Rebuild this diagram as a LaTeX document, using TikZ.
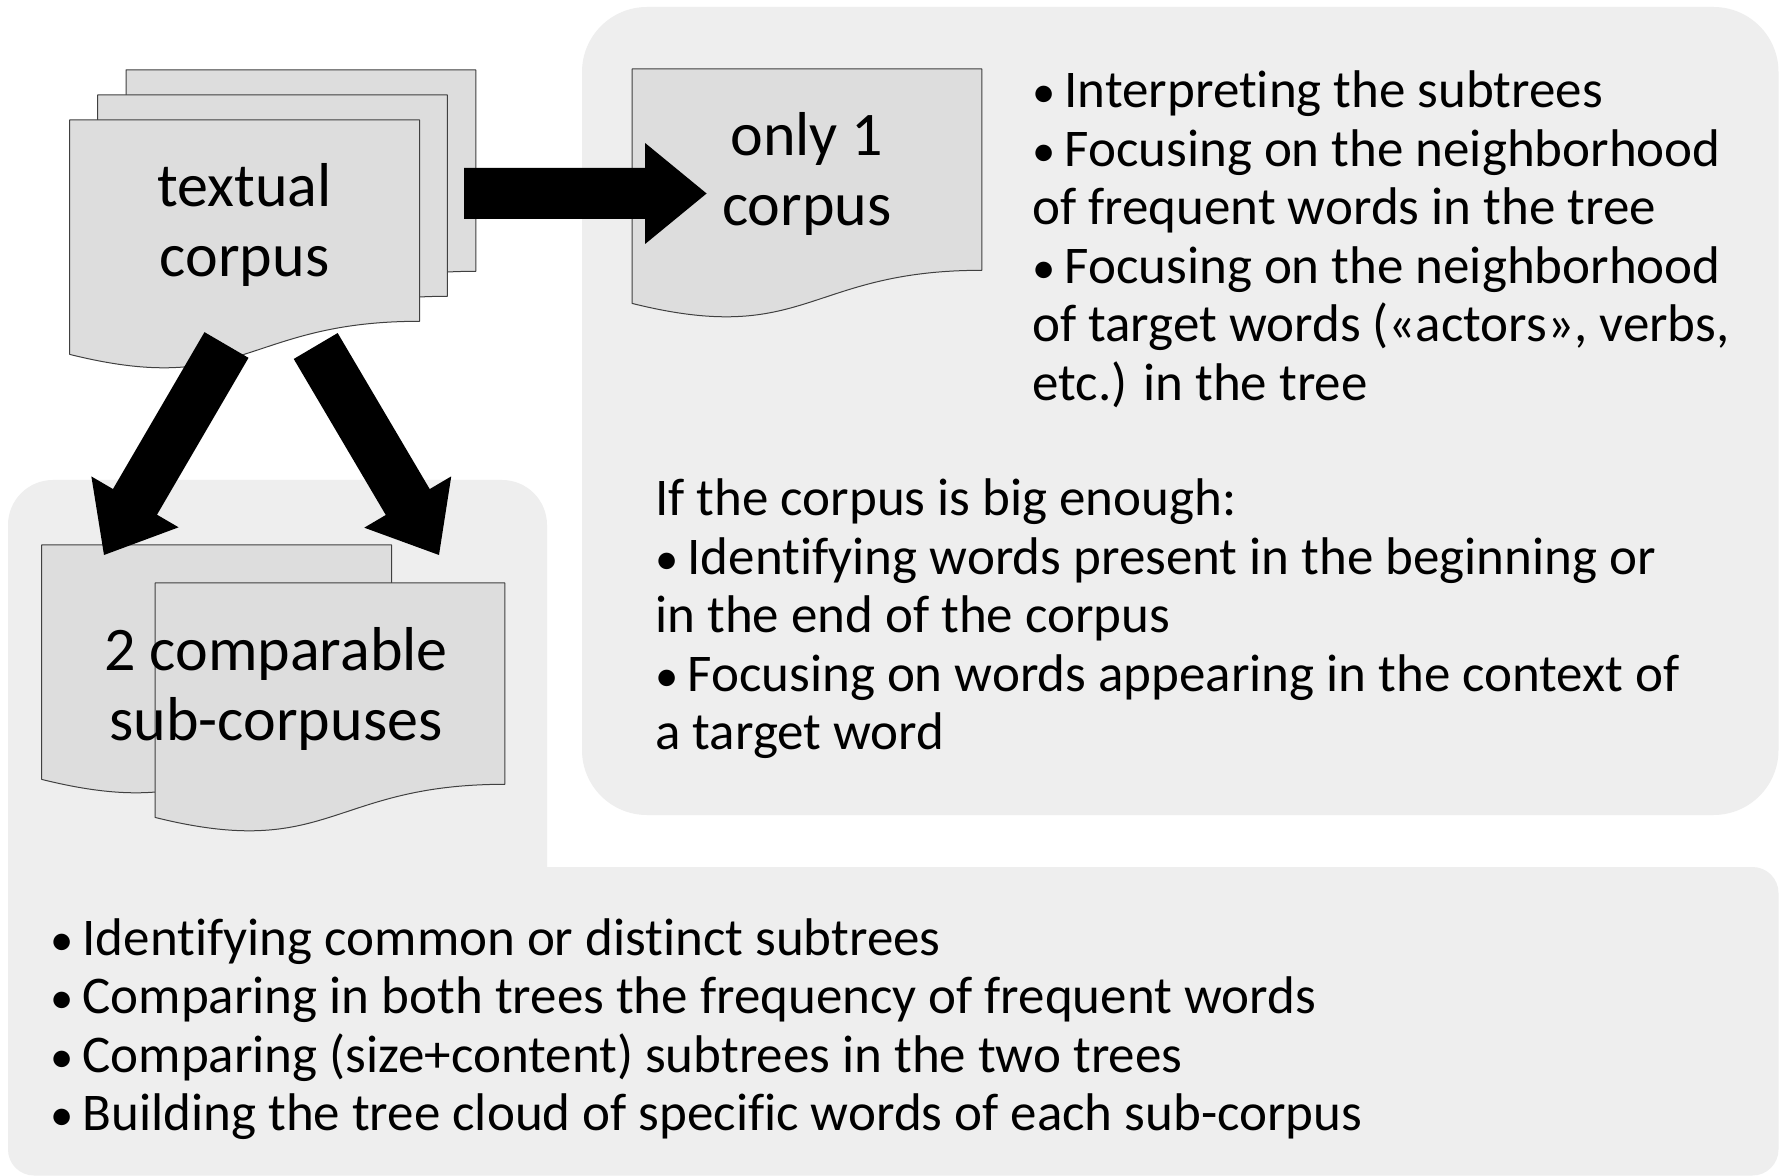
\documentclass[tikz,border=0pt]{standalone}
\usepackage{fontspec}
\setmainfont[Ligatures=NoCommon]{Carlito}
\usetikzlibrary{calc}

\definecolor{panelgray}{HTML}{EEEEEE}
\definecolor{pagegray}{HTML}{DDDDDD}
\definecolor{pageedge}{HTML}{404040}

% document shape: flat top, wavy bottom, drawn round an empty named node
\newcommand\docoutline[1]{%
  \filldraw[pageshape] (#1.north west) -- (#1.north east)
    -- ($(#1.north east)+(0,201.3)$)
    .. controls ($(#1.north)+(0,201.3)$) and ($(#1.north)+(0,278)$)
    .. ($(#1.north west)+(0,234.4)$) -- cycle;}

% thick block arrow from one named coordinate to another
\newcommand\blockarrow[2]{%
  \coordinate (ba-h) at ($(#2)!30.75pt!(#1)$);
  \fill[arrowfill] ($(#1)!12.75pt!90:(#2)$)
    -- ($(ba-h)!12.75pt!90:(#2)$)
    -- ($(ba-h)!25.25pt!90:(#2)$)
    -- (#2)
    -- ($(ba-h)!25.25pt!-90:(#2)$)
    -- ($(ba-h)!12.75pt!-90:(#2)$)
    -- ($(#1)!12.75pt!-90:(#2)$) -- cycle;}

% multi-line text whose baseline is that of its first line
\newcommand\leftlines[1]{\vtop{\halign{##\hfil\cr#1\crcr}}}
\newcommand\centrelines[1]{\vtop{\halign{\hfil##\hfil\cr#1\crcr}}}
% list bullet
\newcommand\bul{\scalebox{0.88}{•}\kern-1.5pt\ }

\tikzset{
  docbox/.style={rectangle, inner sep=0pt, minimum width=174.5pt,
    minimum height=125.5pt, anchor=north west},
  pageshape/.style={fill=pagegray, draw=pageedge, line width=0.5pt, line join=round},
  arrowfill/.style={fill=black},
  doclabel/.style={inner sep=0pt, anchor=base,
    font=\fontsize{31pt}{35pt}\selectfont},
  listtext/.style={inner sep=0pt, anchor=base west,
    font=\fontsize{26.5pt}{29.25pt}\selectfont},
}

\begin{document}
\begin{tikzpicture}[x=0.5pt, y=-0.5pt]
\useasboundingbox (0,0) rectangle (1779,1176);
\fill[white] (0,0) rectangle (1779,1176);

% background panels
\fill[panelgray, rounded corners=32.5pt] (582,7) rectangle (1778.5,815);
\fill[panelgray, rounded corners=22.5pt] (8,480) rectangle (547,1000);
\fill[panelgray, rounded corners=13pt] (8,867) rectangle (1778.5,1175.5);

% the textual corpus (stack of three pages)
\node[docbox] (tc-back)  at (126,70)  {};
\node[docbox] (tc-mid)   at (97.6,95) {};
\node[docbox] (tc-front) at (69.7,120) {};
\docoutline{tc-back}
\docoutline{tc-mid}
\docoutline{tc-front}

% single corpus
\node[docbox] (one) at (632,69) {};
\docoutline{one}

% two sub-corpuses
\node[docbox] (sub-back)  at (41.7,545) {};
\node[docbox] (sub-front) at (155,583) {};
\docoutline{sub-back}
\docoutline{sub-front}

% arrows
\coordinate (toone-s) at (464,193.5);
\coordinate (toone-e) at (706.6,193.5);
\coordinate (tosubl-s) at (226.5,345);
\coordinate (tosubl-e) at (104,555);
\coordinate (tosubr-s) at (315.7,346);
\coordinate (tosubr-e) at (439,555);
\blockarrow{toone-s}{toone-e}
\blockarrow{tosubl-s}{tosubl-e}
\blockarrow{tosubr-s}{tosubr-e}

% page labels
\node[doclabel] (lab-tc) at ($(tc-front.north)+(0,87)$) {\centrelines{textual\cr corpus}};
\node[doclabel] (lab-one) at ($(one.north)+(0,87)$) {\centrelines{only 1\cr corpus}};
\node[doclabel] (lab-sub) at (276,670) {\centrelines{2 comparable\cr sub-corpuses}};

% analysis lists
\node[listtext] (list-one) at (1032,108) {\leftlines{%
\bul Interpreting the subtrees\cr
\bul Focusing on the neighborhood\cr
of frequent words in the tree\cr
\bul Focusing on the neighborhood\cr
of target words («actors», verbs,\cr
etc.) in the tree}};

\node[listtext] (list-big) at (655,516) {\leftlines{%
If the corpus is big enough:\cr
\bul Identifying words present in the beginning or\cr
in the end of the corpus\cr
\bul Focusing on words appearing in the context of\cr
a target word}};

\node[listtext] (list-two) at (50,955) {\leftlines{%
\bul Identifying common or distinct subtrees\cr
\bul Comparing in both trees the frequency of frequent words\cr
\bul Comparing (size+content) subtrees in the two trees\cr
\bul Building the tree cloud of specific words of each sub-corpus}};
\end{tikzpicture}
\end{document}
